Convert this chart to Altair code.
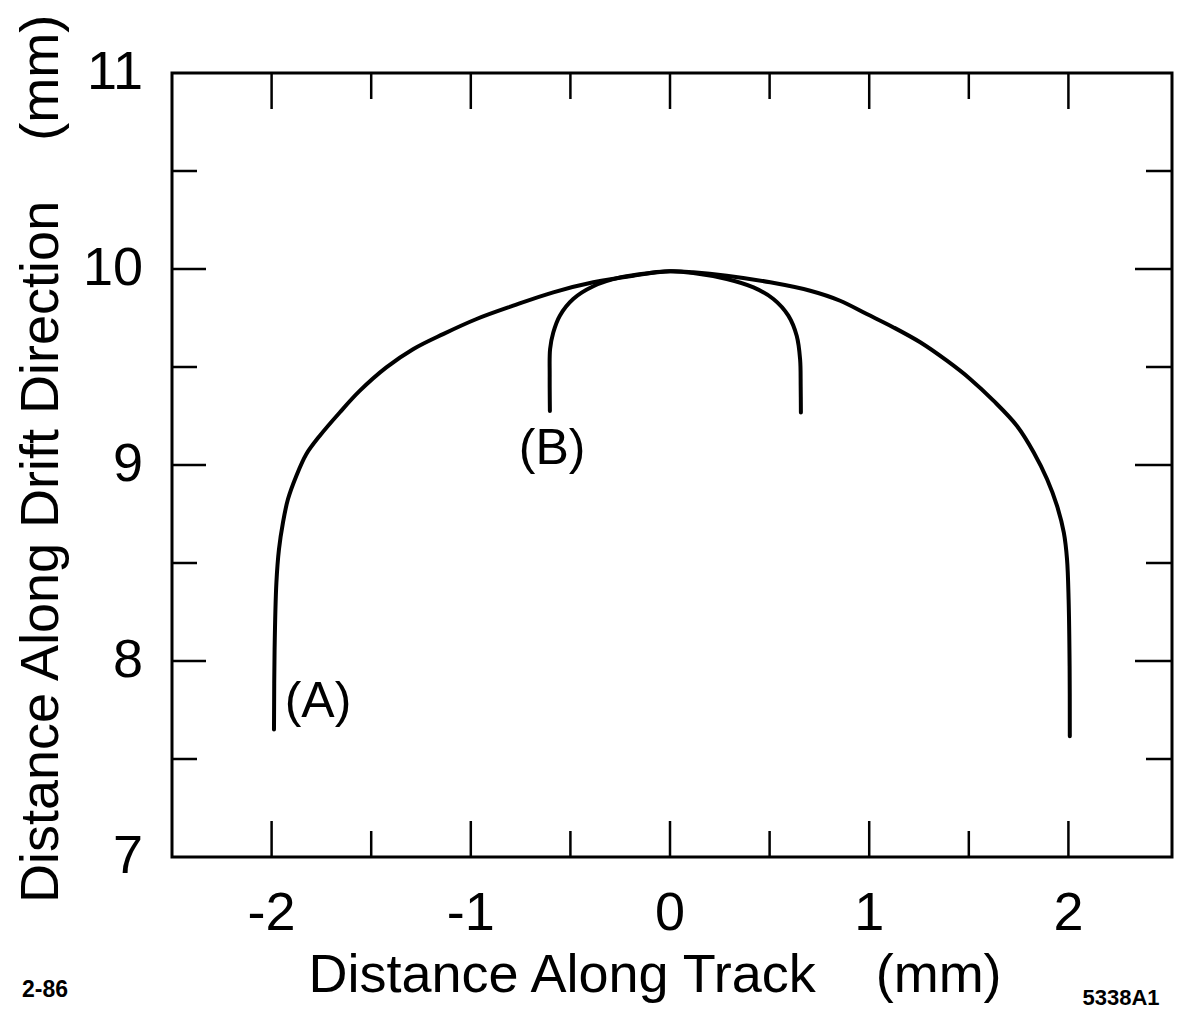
import altair as alt
import pandas as pd

FONT = "Liberation Sans"

# Trajectory (A): wide arc
a_x = [-1.988, -1.985, -1.976, -1.963, -1.943, -1.918, -1.876, -1.826, -1.759, -1.658,
       -1.558, -1.424, -1.290, -1.139, -0.971, -0.787, -0.586, -0.385, -0.184, 0.000,
       0.117, 0.285, 0.503, 0.704, 0.854, 0.988, 1.122, 1.256, 1.390, 1.508,
       1.625, 1.742, 1.826, 1.893, 1.943, 1.977, 1.993, 2.001, 2.006, 2.007]
a_y = [7.650, 8.059, 8.399, 8.570, 8.706, 8.825, 8.944, 9.055, 9.148, 9.268,
       9.378, 9.498, 9.591, 9.668, 9.745, 9.813, 9.881, 9.932, 9.966, 9.988,
       9.983, 9.966, 9.932, 9.889, 9.838, 9.770, 9.702, 9.626, 9.532, 9.438,
       9.327, 9.199, 9.064, 8.927, 8.791, 8.655, 8.519, 8.314, 7.973, 7.616]

# Trajectory (B): narrow arc
b_x = [-0.603, -0.604, -0.602, -0.586, -0.553, -0.486, -0.385, -0.251, -0.101, 0.000,
       0.117, 0.285, 0.419, 0.519, 0.594, 0.636, 0.653, 0.656, 0.657]
b_y = [9.276, 9.455, 9.591, 9.676, 9.762, 9.847, 9.912, 9.957, 9.980, 9.988,
       9.980, 9.949, 9.906, 9.847, 9.762, 9.659, 9.540, 9.400, 9.268]

# Tick positions and labels
x_major = [-2, -1, 0, 1, 2]
x_minor = [-1.5, -0.5, 0.5, 1.5]
x_tick_text = ["-2", "-1", "0", "1", "2"]
y_major = [8, 9, 10]
y_minor = [7.5, 8.5, 9.5, 10.5]
y_label_vals = [7, 8, 9, 10, 11]
y_tick_text = ["7", "8", "9", "10", "11"]

x_domain = [-2.5, 2.52]
y_domain = [7, 11]

x_title = "Distance Along Track\u00a0\u00a0\u00a0\u00a0(mm)"
y_title = "Distance Along Drift Direction\u00a0\u00a0\u00a0\u00a0(mm)"

curve_names = ["(A)", "(B)"]
name_x = [-1.767, -0.592]
name_y = [7.79, 9.08]

notes = ["2-86", "5338A1"]

W, H = 1000, 784
xs = alt.Scale(domain=x_domain, nice=False, zero=False)
ys = alt.Scale(domain=y_domain, nice=False, zero=False)

curves = pd.DataFrame({
    "x": a_x + b_x,
    "y": a_y + b_y,
    "curve": ["A"] * len(a_x) + ["B"] * len(b_x),
    "i": list(range(len(a_x))) + list(range(len(b_x))),
})

lines = alt.Chart(curves).mark_line(
    color="black", strokeWidth=4, interpolate="catmull-rom", strokeCap="round"
).encode(
    x=alt.X("x:Q", scale=xs, axis=None),
    y=alt.Y("y:Q", scale=ys, axis=None),
    detail="curve:N",
    order="i:Q",
)


def edge_ticks(values, side, length):
    """Inward tick marks along one edge of the frame (half of each tick is clipped)."""
    df = pd.DataFrame({"v": values})
    if side in ("bottom", "top"):
        edge = y_domain[0] if side == "bottom" else y_domain[1]
        return alt.Chart(df).transform_calculate(e=str(edge)).mark_tick(
            orient="vertical", size=2 * length, thickness=2.5, color="black", clip=True, opacity=1
        ).encode(
            x=alt.X("v:Q", scale=xs, axis=None),
            y=alt.Y("e:Q", scale=ys, axis=None),
        )
    edge = x_domain[0] if side == "left" else x_domain[1]
    return alt.Chart(df).transform_calculate(e=str(edge)).mark_tick(
        orient="horizontal", size=2 * length, thickness=2.5, color="black", clip=True, opacity=1
    ).encode(
        x=alt.X("e:Q", scale=xs, axis=None),
        y=alt.Y("v:Q", scale=ys, axis=None),
    )


ticks = [
    edge_ticks(x_major, "bottom", 36), edge_ticks(x_minor, "bottom", 26),
    edge_ticks(x_major, "top", 36), edge_ticks(x_minor, "top", 26),
    edge_ticks(y_major, "left", 34), edge_ticks(y_minor, "left", 25),
    edge_ticks(y_major, "right", 37), edge_ticks(y_minor, "right", 26),
]

# Tick labels, placed through the scales just outside the frame
x_labels = alt.Chart(pd.DataFrame({"v": x_major, "t": x_tick_text})).transform_calculate(
    e=str(y_domain[0])
).mark_text(
    font=FONT, fontSize=54, color="black", align="center", baseline="alphabetic", dy=73
).encode(
    x=alt.X("v:Q", scale=xs, axis=None),
    y=alt.Y("e:Q", scale=ys, axis=None),
    text="t:N",
)

y_labels = alt.Chart(pd.DataFrame({"v": y_label_vals, "t": y_tick_text})).transform_calculate(
    e=str(x_domain[0])
).mark_text(
    font=FONT, fontSize=54, color="black", align="right", baseline="middle", dx=-29
).encode(
    x=alt.X("e:Q", scale=xs, axis=None),
    y=alt.Y("v:Q", scale=ys, axis=None),
    text="t:N",
)

x_title_mark = alt.Chart(pd.DataFrame({"t": [x_title]})).mark_text(
    font=FONT, fontSize=54, color="black", align="center", baseline="alphabetic"
).encode(x=alt.value(483), y=alt.value(H + 135), text="t:N")

y_title_mark = alt.Chart(pd.DataFrame({"t": [y_title]})).mark_text(
    font=FONT, fontSize=54, color="black", align="center", baseline="alphabetic", angle=270
).encode(x=alt.value(-114), y=alt.value(386), text="t:N")

names = alt.Chart(pd.DataFrame({"x": name_x, "y": name_y, "t": curve_names})).mark_text(
    font=FONT, fontSize=50, color="black", align="center", baseline="middle"
).encode(
    x=alt.X("x:Q", scale=xs, axis=None),
    y=alt.Y("y:Q", scale=ys, axis=None),
    text="t:N",
)

note_left = alt.Chart(pd.DataFrame({"t": [notes[0]]})).mark_text(
    font=FONT, fontSize=23, fontWeight="bold", color="black", align="center", baseline="alphabetic"
).encode(x=alt.value(-127), y=alt.value(924), text="t:N")

note_right = alt.Chart(pd.DataFrame({"t": [notes[1]]})).mark_text(
    font=FONT, fontSize=22, fontWeight="bold", color="black", align="center", baseline="alphabetic"
).encode(x=alt.value(949), y=alt.value(932), text="t:N")

chart = alt.layer(
    lines, *ticks, x_labels, y_labels, x_title_mark, y_title_mark, names, note_left, note_right
).properties(
    width=W,
    height=H,
    autosize=alt.AutoSizeParams(type="none"),
    padding={"left": 172, "top": 73, "right": 6, "bottom": 157},
    background="white",
).configure_view(
    stroke="black", strokeWidth=3
)

chart.save("out.html", embed_options={"renderer": "svg", "actions": False})
